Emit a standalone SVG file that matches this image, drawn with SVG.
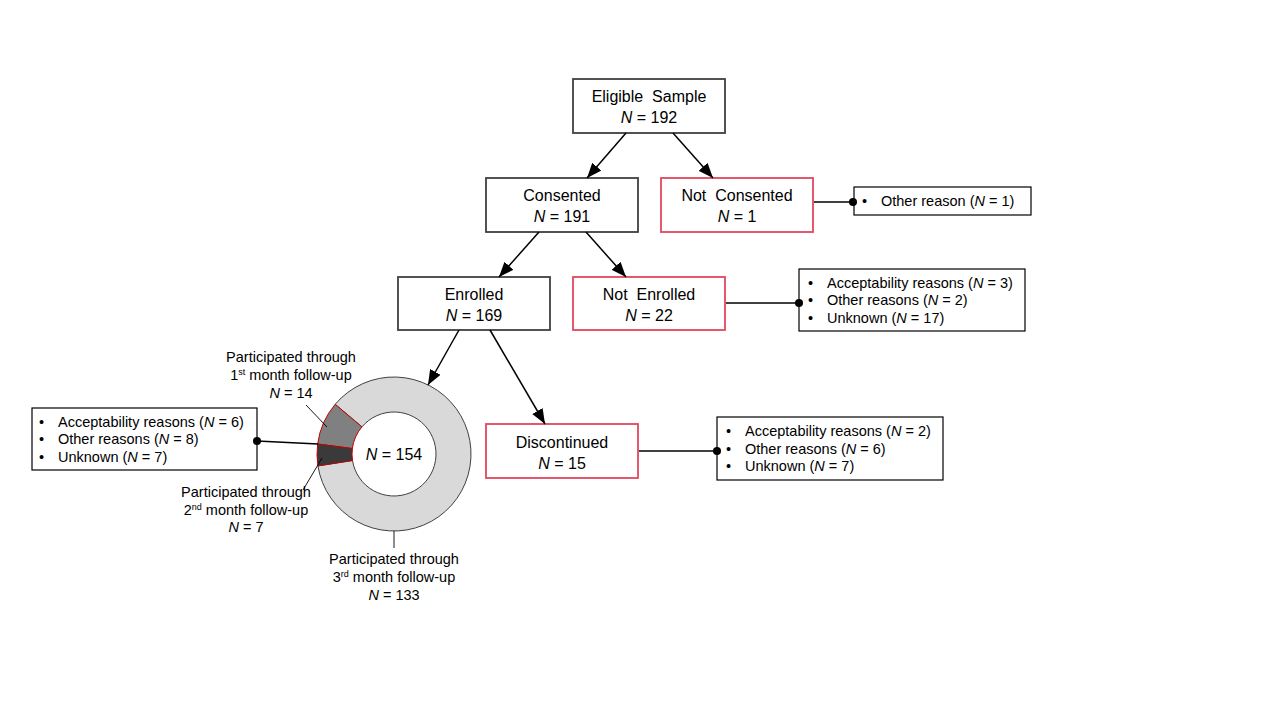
<svg xmlns="http://www.w3.org/2000/svg" width="1280" height="720" viewBox="0 0 1280 720">
  <defs>
    <marker id="arrow" markerUnits="userSpaceOnUse" markerWidth="15" markerHeight="12" refX="15" refY="6" orient="auto">
      <path d="M0,0 L15,6 L0,12 Z" fill="#000"/>
    </marker>
    <style>
      text { font-family: "Liberation Sans", Arial, sans-serif; fill: #000; }
      .box { fill: #fff; stroke: #404040; stroke-width: 1.8; }
      .box-red { fill: #fff; stroke: #e2475f; stroke-width: 1.8; }
      .note { fill: #fff; stroke: #000; stroke-width: 1.2; }
      .lbl { font-size: 16px; text-anchor: middle; }
      .sm { font-size: 14.5px; }
      .smc { font-size: 14.5px; text-anchor: middle; }
      .it { font-style: italic; }
      .sup { font-size: 9px; }
      .arrow { stroke: #000; stroke-width: 1.5; fill: none; marker-end: url(#arrow); }
      .link { stroke: #000; stroke-width: 1.3; fill: none; }
      .leader { stroke: #000; stroke-width: 0.9; fill: none; }
    </style>
  </defs>

  <rect width="1280" height="720" fill="#fff"/>

  <g id="eligible">
    <rect class="box" x="573" y="79" width="152" height="54"/>
    <text class="lbl" x="649" y="102" xml:space="preserve">Eligible  Sample</text>
    <text class="lbl" x="649" y="123"><tspan class="it">N</tspan> = 192</text>
  </g>

  <g id="consented">
    <rect class="box" x="486" y="178" width="152" height="54"/>
    <text class="lbl" x="562" y="201">Consented</text>
    <text class="lbl" x="562" y="222"><tspan class="it">N</tspan> = 191</text>
  </g>

  <g id="not-consented">
    <rect class="box-red" x="661" y="178" width="152" height="54"/>
    <text class="lbl" x="737" y="201" xml:space="preserve">Not  Consented</text>
    <text class="lbl" x="737" y="222"><tspan class="it">N</tspan> = 1</text>
  </g>

  <g id="not-consented-reasons">
    <rect class="note" x="854" y="187" width="177" height="28"/>
    <text class="sm" x="862" y="206">•</text>
    <text class="sm" x="881" y="206">Other reason (<tspan class="it">N</tspan> = 1)</text>
  </g>

  <g id="enrolled">
    <rect class="box" x="398" y="277" width="152" height="53"/>
    <text class="lbl" x="474" y="300">Enrolled</text>
    <text class="lbl" x="474" y="321"><tspan class="it">N</tspan> = 169</text>
  </g>

  <g id="not-enrolled">
    <rect class="box-red" x="573" y="277" width="152" height="53"/>
    <text class="lbl" x="649" y="300" xml:space="preserve">Not  Enrolled</text>
    <text class="lbl" x="649" y="321"><tspan class="it">N</tspan> = 22</text>
  </g>

  <g id="not-enrolled-reasons">
    <rect class="note" x="799" y="269" width="226" height="62"/>
    <text class="sm" x="808" y="288">•</text>
    <text class="sm" x="827" y="288">Acceptability reasons (<tspan class="it">N</tspan> = 3)</text>
    <text class="sm" x="808" y="305">•</text>
    <text class="sm" x="827" y="305">Other reasons (<tspan class="it">N</tspan> = 2)</text>
    <text class="sm" x="808" y="323">•</text>
    <text class="sm" x="827" y="323">Unknown (<tspan class="it">N</tspan> = 17)</text>
  </g>

  <g id="discontinued">
    <rect class="box-red" x="486" y="424" width="152" height="54"/>
    <text class="lbl" x="562" y="448">Discontinued</text>
    <text class="lbl" x="562" y="469"><tspan class="it">N</tspan> = 15</text>
  </g>

  <g id="discontinued-reasons">
    <rect class="note" x="717" y="417" width="226" height="63"/>
    <text class="sm" x="726" y="436">•</text>
    <text class="sm" x="745" y="436">Acceptability reasons (<tspan class="it">N</tspan> = 2)</text>
    <text class="sm" x="726" y="454">•</text>
    <text class="sm" x="745" y="454">Other reasons (<tspan class="it">N</tspan> = 6)</text>
    <text class="sm" x="726" y="471">•</text>
    <text class="sm" x="745" y="471">Unknown (<tspan class="it">N</tspan> = 7)</text>
  </g>

  <!-- retention donut: 133 / 14 / 7 of 154 -->
  <g id="retention-donut">
    <path d="M335.19,404.30 A77,77 0 1 1 317.93,465.92 L352.51,460.50 A42,42 0 1 0 361.92,426.89 Z" fill="#d9d9d9" stroke="#404040" stroke-width="1"/>
    <path d="M317.65,443.99 A77,77 0 0 1 335.19,404.30 L361.92,426.89 A42,42 0 0 0 352.36,448.54 Z" fill="#808080" stroke="#c00000" stroke-width="1"/>
    <path d="M317.93,465.92 A77,77 0 0 1 317.65,443.99 L352.36,448.54 A42,42 0 0 0 352.51,460.50 Z" fill="#3a3a3a" stroke="#c00000" stroke-width="1"/>
    <text class="lbl" x="394" y="460"><tspan class="it">N</tspan> = 154</text>
  </g>

  <g id="month1-label">
    <line class="leader" x1="306" y1="405" x2="327" y2="427"/>
    <text class="smc" x="291" y="362">Participated through</text>
    <text class="smc" x="291" y="380">1<tspan class="sup" dy="-5">st</tspan><tspan dy="5"> month follow-up</tspan></text>
    <text class="smc" x="291" y="398"><tspan class="it">N</tspan> = 14</text>
  </g>

  <g id="month2-label">
    <line class="leader" x1="303" y1="490" x2="322" y2="458"/>
    <text class="smc" x="246" y="497">Participated through</text>
    <text class="smc" x="246" y="515">2<tspan class="sup" dy="-5">nd</tspan><tspan dy="5"> month follow-up</tspan></text>
    <text class="smc" x="246" y="532"><tspan class="it">N</tspan> = 7</text>
  </g>

  <g id="month3-label">
    <line class="leader" x1="394" y1="531" x2="394" y2="548"/>
    <text class="smc" x="394" y="564">Participated through</text>
    <text class="smc" x="394" y="582">3<tspan class="sup" dy="-5">rd</tspan><tspan dy="5"> month follow-up</tspan></text>
    <text class="smc" x="394" y="600"><tspan class="it">N</tspan> = 133</text>
  </g>

  <g id="follow-up-reasons">
    <rect class="note" x="32" y="408" width="225" height="62"/>
    <text class="sm" x="39" y="427">•</text>
    <text class="sm" x="58" y="427">Acceptability reasons (<tspan class="it">N</tspan> = 6)</text>
    <text class="sm" x="39" y="444">•</text>
    <text class="sm" x="58" y="444">Other reasons (<tspan class="it">N</tspan> = 8)</text>
    <text class="sm" x="39" y="462">•</text>
    <text class="sm" x="58" y="462">Unknown (<tspan class="it">N</tspan> = 7)</text>
  </g>

  <!-- connectors, drawn last so the end dots sit over the box borders -->
  <g id="connectors">
    <line class="arrow" x1="626" y1="133" x2="587" y2="178"/>
    <line class="arrow" x1="673" y1="133" x2="713" y2="178"/>
    <line class="arrow" x1="539" y1="232" x2="499" y2="277"/>
    <line class="arrow" x1="586" y1="232" x2="626" y2="277"/>
    <line class="arrow" x1="459" y1="330" x2="428" y2="385"/>
    <line class="arrow" x1="490" y1="330" x2="545" y2="424"/>
    <line class="link" x1="814" y1="202" x2="853" y2="202"/>
    <circle cx="853" cy="202" r="4" fill="#000"/>
    <line class="link" x1="726" y1="303" x2="799" y2="303"/>
    <circle cx="799" cy="303" r="4" fill="#000"/>
    <line class="link" x1="639" y1="451" x2="717" y2="451"/>
    <circle cx="717" cy="451" r="4" fill="#000"/>
    <line class="link" x1="257" y1="441" x2="318" y2="444"/>
    <circle cx="257" cy="441" r="4" fill="#000"/>
  </g>
</svg>
